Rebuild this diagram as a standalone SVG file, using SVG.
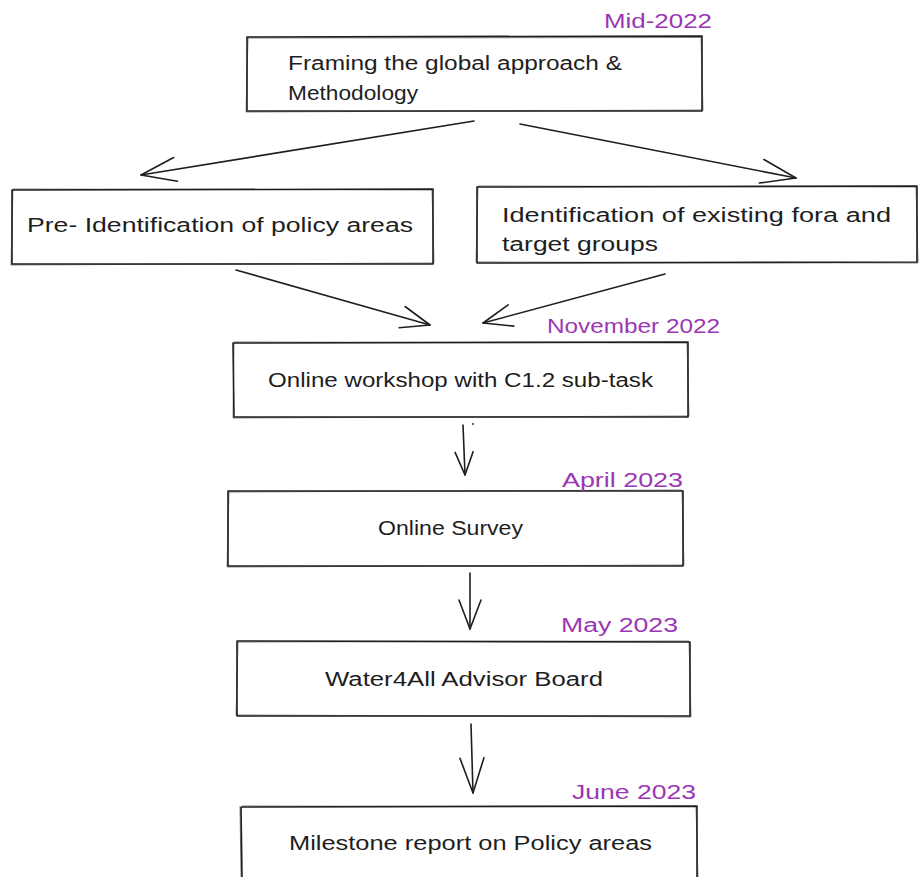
<svg xmlns="http://www.w3.org/2000/svg" width="919" height="877" viewBox="0 0 919 877">
<style>
.box{fill:none;stroke:#1e1e1e;stroke-width:1.6;stroke-linejoin:round}
.box2{fill:none;stroke:#1e1e1e;stroke-width:0.8;opacity:0.7}
.t{font-family:"Liberation Sans","DejaVu Sans",sans-serif;font-size:20px;fill:#1e1e1e}
.d{font-family:"Liberation Sans","DejaVu Sans",sans-serif;font-size:20px;fill:#9c36b5}
.c{fill:none;stroke:#1e1e1e;stroke-width:1.6;stroke-linecap:round}
</style>
<defs>
<marker id="ahL" viewBox="-40 -16 44 32" refX="0" refY="0" markerWidth="44" markerHeight="32" markerUnits="userSpaceOnUse" orient="auto">
<path d="M-35,-12 L0,0 L-35,12" fill="none" stroke="#1e1e1e" stroke-width="1.6" stroke-linecap="round" stroke-linejoin="round"/>
</marker>
<marker id="ahM" viewBox="-40 -16 44 32" refX="0" refY="0" markerWidth="44" markerHeight="32" markerUnits="userSpaceOnUse" orient="auto">
<path d="M-29,-11 L0,0 L-29,11" fill="none" stroke="#1e1e1e" stroke-width="1.6" stroke-linecap="round" stroke-linejoin="round"/>
</marker>
<marker id="ahS" viewBox="-40 -16 44 32" refX="0" refY="0" markerWidth="44" markerHeight="32" markerUnits="userSpaceOnUse" orient="auto">
<path d="M-23,-9 L0,0 L-23,9" fill="none" stroke="#1e1e1e" stroke-width="1.6" stroke-linecap="round" stroke-linejoin="round"/>
</marker>
</defs>
<rect width="919" height="877" fill="#ffffff"/>

<g id="n1">
<path class="box" d="M247,37 L702,36 L702,111 L247,111 Z"/>
<path class="box2" d="M248,38 L701,37.5 L703,110 L246,112 Z"/>
<text class="d" x="604" y="28" textLength="108" lengthAdjust="spacingAndGlyphs">Mid-2022</text>
<text class="t" x="288" y="70" textLength="334" lengthAdjust="spacingAndGlyphs">Framing the global approach &amp;</text>
<text class="t" x="288" y="100" textLength="130" lengthAdjust="spacingAndGlyphs">Methodology</text>
</g>

<g id="n2">
<path class="box" d="M12,190 L433,189 L433,264 L12,264 Z"/>
<path class="box2" d="M13,189 L432,190 L434,263 L11,265 Z"/>
<text class="t" x="27" y="232" textLength="386" lengthAdjust="spacingAndGlyphs">Pre- Identification of policy areas</text>
</g>

<g id="n3">
<path class="box" d="M477,187 L917,186 L917,262 L477,263 Z"/>
<path class="box2" d="M478,186 L916,187 L918,263 L476,262 Z"/>
<text class="t" x="502" y="222" textLength="389" lengthAdjust="spacingAndGlyphs">Identification of existing fora and</text>
<text class="t" x="502" y="251" textLength="156" lengthAdjust="spacingAndGlyphs">target groups</text>
</g>

<g id="n4">
<path class="box" d="M233,343 L688,342 L688,417 L234,417 Z"/>
<path class="box2" d="M234,342 L687,343 L689,416 L233,418 Z"/>
<text class="d" x="547" y="333" textLength="173" lengthAdjust="spacingAndGlyphs">November 2022</text>
<text class="t" x="268" y="387" textLength="385" lengthAdjust="spacingAndGlyphs">Online workshop with C1.2 sub-task</text>
</g>

<g id="n5">
<path class="box" d="M228,491 L683,491 L683,566 L228,566 Z"/>
<path class="box2" d="M229,492 L682,490 L684,565 L227,567 Z"/>
<text class="d" x="562" y="487" textLength="121" lengthAdjust="spacingAndGlyphs">April 2023</text>
<text class="t" x="378" y="535" textLength="145" lengthAdjust="spacingAndGlyphs">Online Survey</text>
</g>

<g id="n6">
<path class="box" d="M237,641 L690,642 L690,716 L237,716 Z"/>
<path class="box2" d="M238,642 L689,641 L691,717 L236,715 Z"/>
<text class="d" x="561" y="632" textLength="117" lengthAdjust="spacingAndGlyphs">May 2023</text>
<text class="t" x="325" y="686" textLength="278" lengthAdjust="spacingAndGlyphs">Water4All Advisor Board</text>
</g>

<g id="n7">
<path class="box" d="M241,807 L697,806 L697,877 M241,807 L242,877"/>
<path class="box2" d="M242,806 L696,807 L698,877 M240,806 L241,877"/>
<text class="d" x="572" y="799" textLength="124" lengthAdjust="spacingAndGlyphs">June 2023</text>
<text class="t" x="289" y="850" textLength="363" lengthAdjust="spacingAndGlyphs">Milestone report on Policy areas</text>
</g>

<g id="connectors">
<path class="c" d="M474,121 L141,175" marker-end="url(#ahL)"/>
<path class="c" d="M520,124 L796,178" marker-end="url(#ahL)"/>
<path class="c" d="M236,270 L430,325" marker-end="url(#ahM)"/>
<path class="c" d="M665,274 L483,323" marker-end="url(#ahM)"/>
<path class="c" d="M463,425 L465,475" marker-end="url(#ahS)"/>
<path class="c" d="M470,573 L470,629" marker-end="url(#ahM)"/>
<path class="c" d="M471,724 L473,793" marker-end="url(#ahL)"/>
<circle cx="473" cy="424" r="0.9" fill="#1e1e1e"/>
</g>
</svg>
